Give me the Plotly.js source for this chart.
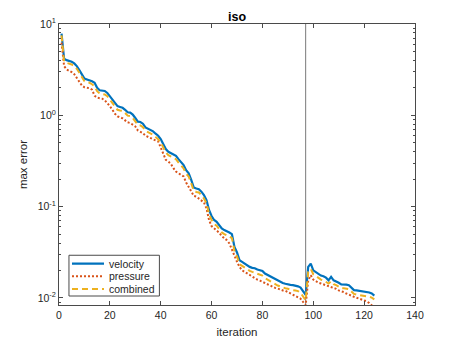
<!DOCTYPE html>
<html>
<head>
<meta charset="utf-8">
<script src="https://cdn.plot.ly/plotly-3.0.1.min.js"></script>
<style>
html,body{margin:0;padding:0;background:#fff;}
#chart{width:458px;height:343px;}
</style>
</head>
<body>
<div id="chart"></div>
<script>
// Iteration numbers (1..124)
const iterations = Array.from({length: 124}, (_, i) => i + 1);

const velocity = [
  7.83, 4.16, 4.02, 3.95, 3.86, 3.70, 3.46, 3.12, 2.80, 2.53,
  2.47, 2.42, 2.36, 2.27, 2.00, 1.88, 1.88, 1.85, 1.76, 1.62,
  1.49, 1.34, 1.26, 1.235, 1.21, 1.15, 1.08, 1.07, 1.02, 0.935,
  0.852, 0.845, 0.810, 0.738, 0.714, 0.696, 0.667, 0.629, 0.598, 0.549,
  0.488, 0.427, 0.399, 0.386, 0.373, 0.360, 0.331, 0.307, 0.285, 0.251,
  0.232, 0.196, 0.162, 0.158, 0.155, 0.146, 0.134, 0.118, 0.0919, 0.0790,
  0.0714, 0.0684, 0.0629, 0.0578, 0.0554, 0.0540, 0.0522, 0.0501, 0.0363, 0.0315,
  0.0259, 0.0249, 0.0238, 0.0229, 0.0219, 0.0214, 0.0212, 0.0205, 0.0201, 0.0198,
  0.0185, 0.0179, 0.0173, 0.0165, 0.0159, 0.0154, 0.0150, 0.0146, 0.0143, 0.0140,
  0.0139, 0.0138, 0.0137, 0.0134, 0.0130, 0.0120, 0.0108, 0.0219, 0.0238, 0.0201,
  0.0191, 0.0185, 0.0176, 0.0173, 0.0167, 0.0156, 0.0170, 0.0156, 0.0152, 0.0147,
  0.0141, 0.0141, 0.0140, 0.0138, 0.0130, 0.0122, 0.0121, 0.0120, 0.0119, 0.0118,
  0.0117, 0.0115, 0.0112, 0.0106
];

const pressure = [
  6.24, 3.46, 3.18, 3.10, 2.97, 2.82, 2.57, 2.27, 2.12, 2.03,
  2.00, 1.98, 1.91, 1.64, 1.56, 1.54, 1.52, 1.46, 1.37, 1.26,
  1.15, 1.04, 0.975, 0.959, 0.927, 0.881, 0.838, 0.824, 0.796, 0.757,
  0.684, 0.661, 0.639, 0.598, 0.578, 0.563, 0.549, 0.531, 0.518, 0.438,
  0.370, 0.326, 0.312, 0.294, 0.264, 0.242, 0.232, 0.225, 0.214, 0.184,
  0.166, 0.146, 0.131, 0.129, 0.123, 0.118, 0.111, 0.0959, 0.0714, 0.0613,
  0.0578, 0.0545, 0.0518, 0.0476, 0.0453, 0.0430, 0.0396, 0.0340, 0.0282, 0.0249,
  0.0219, 0.0201, 0.0193, 0.0185, 0.0177, 0.0170, 0.0163, 0.0159, 0.0155, 0.0150,
  0.0146, 0.0141, 0.0137, 0.0132, 0.0129, 0.0127, 0.0123, 0.0121, 0.0120, 0.0116,
  0.0113, 0.0109, 0.0106, 0.0103, 0.00983, 0.00904, 0.00831, 0.0156, 0.0177, 0.0159,
  0.0152, 0.0147, 0.0144, 0.0141, 0.0138, 0.0135, 0.0134, 0.0130, 0.0126, 0.0121,
  0.0119, 0.0116, 0.0112, 0.0110, 0.0106, 0.0103, 0.0101, 0.0099, 0.00967, 0.00943,
  0.00919, 0.00880, 0.00831, 0.00783
];

const combined = [
  7.51, 3.89, 3.76, 3.70, 3.60, 3.46, 3.23, 2.92, 2.62, 2.36,
  2.30, 2.27, 2.19, 2.08, 1.84, 1.73, 1.71, 1.69, 1.62, 1.49,
  1.37, 1.235, 1.15, 1.13, 1.12, 1.06, 0.992, 0.983, 0.935, 0.859,
  0.783, 0.776, 0.744, 0.678, 0.656, 0.639, 0.613, 0.578, 0.549, 0.505,
  0.449, 0.392, 0.366, 0.354, 0.343, 0.331, 0.304, 0.282, 0.262, 0.230,
  0.214, 0.180, 0.149, 0.145, 0.143, 0.134, 0.123, 0.109, 0.0831, 0.0714,
  0.0645, 0.0618, 0.0568, 0.0522, 0.0501, 0.0488, 0.0472, 0.0453, 0.0328, 0.0285,
  0.0234, 0.0225, 0.0215, 0.0207, 0.0198, 0.0193, 0.0188, 0.0182, 0.0179, 0.0176,
  0.0165, 0.0159, 0.0154, 0.0146, 0.0141, 0.0137, 0.0134, 0.0130, 0.0128, 0.0126,
  0.0123, 0.0122, 0.0121, 0.0119, 0.0114, 0.0105, 0.00943, 0.0193, 0.0208, 0.0182,
  0.0173, 0.0167, 0.0159, 0.0156, 0.0151, 0.0144, 0.0152, 0.0142, 0.0138, 0.0134,
  0.0128, 0.0128, 0.0127, 0.0125, 0.0118, 0.0111, 0.0109, 0.0108, 0.0107, 0.0106,
  0.0104, 0.0103, 0.0101, 0.00967
];

const seriesNames = ['velocity', 'pressure', 'combined'];
const restartIterations = [97];

const xTicks = [0, 20, 40, 60, 80, 100, 120, 140];
const yTickVals = [0.01, 0.1, 1, 10];
const yTickText = ['10<sup>-2</sup>', '10<sup>-1</sup>', '10<sup>0</sup>', '10<sup>1</sup>'];

const FONT = 'Liberation Sans, Arial, Helvetica, sans-serif';
const TXT = '#262626';
const LINE = '#4a4a4a';

const styles = [
  {color: '#0072BD', width: 2.2, dash: 'solid'},
  {color: '#D95319', width: 2, dash: '2px,2px'},
  {color: '#EDB120', width: 2, dash: '6px,4px'}
];
const seriesData = [velocity, pressure, combined];

const traces = seriesData.map((ys, i) => ({
  x: iterations, y: ys, name: seriesNames[i], mode: 'lines',
  line: styles[i], showlegend: false
}));

// restart marker line
const shapes = restartIterations.map(it => ({
  type: 'line', xref: 'x', yref: 'paper', x0: it, x1: it, y0: 0, y1: 1,
  line: {color: '#7a7a7a', width: 1}, layer: 'below'
}));

// custom compact legend (MATLAB style)
const leg = {x0: 0.028, x1: 0.282, y0: 0.032, y1: 0.177,
             lineX0: 0.0365, lineX1: 0.1264, textX: 0.1348,
             rows: [0.147, 0.1021, 0.0569]};
shapes.push({type: 'rect', xref: 'paper', yref: 'paper', x0: leg.x0, x1: leg.x1,
             y0: leg.y0, y1: leg.y1, fillcolor: '#fff', line: {color: LINE, width: 1}, layer: 'above'});
const annotations = [];
seriesNames.forEach((nm, i) => {
  shapes.push({type: 'line', xref: 'paper', yref: 'paper', x0: leg.lineX0, x1: leg.lineX1,
               y0: leg.rows[i], y1: leg.rows[i], line: styles[i], layer: 'above'});
  annotations.push({xref: 'paper', yref: 'paper', x: leg.textX, y: leg.rows[i],
                    xanchor: 'left', yanchor: 'middle', showarrow: false, text: nm,
                    font: {family: FONT, size: 10.5, color: TXT}});
});

const layout = {
  width: 458, height: 343,
  margin: {l: 59, r: 43, t: 24, b: 38, pad: 0},
  paper_bgcolor: '#fff', plot_bgcolor: '#fff',
  font: {family: FONT, size: 10.5, color: TXT},
  title: {text: '<b>iso</b>', font: {family: FONT, size: 12.5, color: '#000'},
          x: 0.5, xref: 'paper', y: 0.952, yref: 'container', yanchor: 'middle'},
  showlegend: false,
  xaxis: {range: [0, 140], tickvals: xTicks, ticks: 'inside', ticklen: 4,
          tickcolor: LINE, showline: true, linecolor: LINE, linewidth: 1,
          mirror: 'allticks', showgrid: false, zeroline: false,
          tickfont: {family: FONT, size: 10.5, color: TXT},
          title: {text: 'iteration', font: {family: FONT, size: 11.5, color: TXT}, standoff: 8}},
  yaxis: {type: 'log', range: [Math.log10(0.00838), 1], tickvals: yTickVals, ticktext: yTickText,
          ticks: 'inside', ticklen: 4, tickcolor: LINE, showline: true, linecolor: LINE, linewidth: 1,
          mirror: 'allticks', showgrid: false, zeroline: false,
          tickfont: {family: FONT, size: 10.5, color: TXT},
          minor: {ticks: 'inside', ticklen: 2, tickcolor: LINE, dtick: 'D1', showgrid: false},
          title: {text: 'max error', font: {family: FONT, size: 11.5, color: TXT}, standoff: 7}},
  shapes: shapes,
  annotations: annotations
};

Plotly.newPlot('chart', traces, layout, {displayModeBar: false, staticPlot: true});
</script>
</body>
</html>
